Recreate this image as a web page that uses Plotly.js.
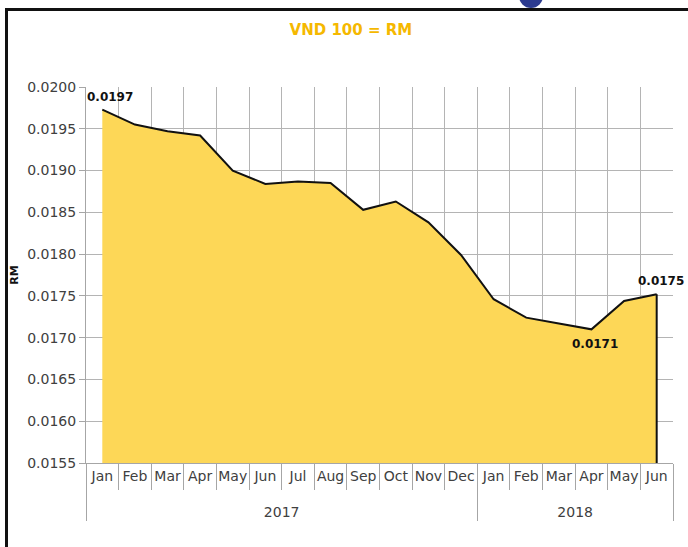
<!DOCTYPE html>
<html>
<head>
<meta charset="utf-8">
<script src="https://cdn.plot.ly/plotly-3.0.1.min.js"></script>
<style>
  html, body { margin: 0; background: #fff; overflow: hidden; width: 688px; height: 547px; }
  #chart { position: absolute; left: 0; top: 0; width: 688px; height: 547px; }
  .frame { position: absolute; left: 5px; top: 8px; width: 680px; height: 536px;
           border-left: 3px solid #111; border-top: 3px solid #111; pointer-events: none; }
  .dot { position: absolute; left: 519px; top: -16px; width: 24px; height: 24px;
         border-radius: 50%; background: #2c3b8f; }
</style>
</head>
<body>
<div id="chart"></div>
<div class="dot"></div>
<div class="frame"></div>
<script>
const years = ["2017", "2017", "2017", "2017", "2017", "2017", "2017", "2017", "2017",
  "2017", "2017", "2017", "2018", "2018", "2018", "2018", "2018", "2018"];
const months = ["Jan", "Feb", "Mar", "Apr", "May", "Jun", "Jul", "Aug", "Sep", "Oct",
  "Nov", "Dec", "Jan", "Feb", "Mar", "Apr", "May", "Jun"];
const rates = [0.01973, 0.01955, 0.01947, 0.01942, 0.01900, 0.01884, 0.01887, 0.01885,
  0.01853, 0.01863, 0.01838, 0.01799, 0.01746, 0.01724, 0.01717, 0.01710, 0.01744, 0.01752];
const labelled = [0, 15, 17]; // points with a value label
const yMin = 0.0155;
const yMax = 0.0200;

const last = rates.length - 1;
// an empty first line drops the year row a little lower, like the original
const yearRow = years.map(function (y) { return " <br>" + y; });
const tickFont = { family: "DejaVu Sans, sans-serif", size: 14, color: "#404040" };

const data = [
  {
    x: [yearRow, months],
    y: rates,
    type: "scatter",
    mode: "lines",
    fill: "tozeroy",
    fillcolor: "#fdd757",
    line: { color: "#111", width: 2 },
    hoverinfo: "skip",
  },
  {
    // closing edge at the last month
    x: [[yearRow[last], yearRow[last]], [months[last], months[last]]],
    y: [rates[last], yMin],
    type: "scatter",
    mode: "lines",
    line: { color: "#111", width: 2 },
    hoverinfo: "skip",
  },
];

const annotations = labelled.map(function (i) {
  const below = i === 15;
  return {
    x: i,
    y: rates[i],
    xref: "x",
    yref: "y",
    text: rates[i].toFixed(4),
    showarrow: false,
    font: { family: "DejaVu Sans, sans-serif", size: 12, color: "#111", weight: "bold" },
    xanchor: i === 0 ? "left" : "center",
    xshift: i === 0 ? -17 : 4,
    yanchor: below ? "top" : "bottom",
    yshift: below ? -6 : 4,
  };
});

const layout = {
  width: 688,
  height: 547,
  margin: { l: 86, r: 15, t: 87, b: 84 },
  paper_bgcolor: "#fff",
  plot_bgcolor: "#fff",
  showlegend: false,
  title: {
    text: "<b>VND 100 = RM</b>",
    font: { family: "DejaVu Sans, sans-serif", size: 15, color: "#f5b800" },
    xref: "container",
    x: 0.51,
    yref: "container",
    y: 0.945,
    yanchor: "middle",
  },
  xaxis: {
    type: "multicategory",
    range: [-0.5, last + 0.5],
    automargin: false,
    tickangle: 0,
    tickson: "boundaries",
    ticks: "outside",
    ticklen: 26,
    tickcolor: "#a6a6a6",
    showgrid: true,
    gridcolor: "#b4b4b4",
    showline: true,
    linecolor: "#a6a6a6",
    showdividers: true,
    dividercolor: "#a6a6a6",
    dividerwidth: 1,
    tickfont: tickFont,
    fixedrange: true,
  },
  yaxis: {
    range: [yMin, yMax],
    automargin: false,
    dtick: 0.0005,
    tickformat: ".4f",
    ticks: "outside",
    ticklen: 6,
    tickcolor: "#a6a6a6",
    showgrid: true,
    gridcolor: "#b4b4b4",
    showline: true,
    linecolor: "#a6a6a6",
    zeroline: false,
    tickfont: tickFont,
    title: {
      text: "<b>RM</b>",
      font: { family: "DejaVu Sans, sans-serif", size: 11, color: "#111" },
      standoff: 6,
    },
    fixedrange: true,
  },
  annotations: annotations,
};

Plotly.newPlot("chart", data, layout, { displayModeBar: false, staticPlot: true });
</script>
</body>
</html>
